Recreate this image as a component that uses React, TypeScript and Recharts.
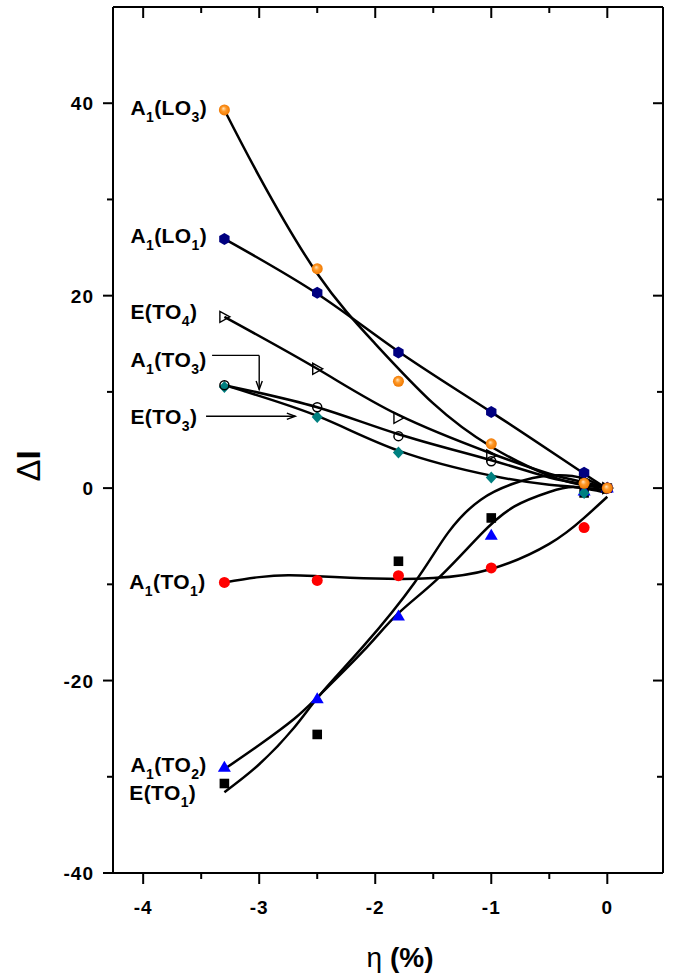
import React from 'react';
import { ComposedChart, Line, Scatter, XAxis, YAxis, ReferenceDot, ReferenceLine } from 'recharts';

// strain values of the measured points
const etaPoints = [-3.3, -2.5, -1.8, -1.0, -0.2, 0];
// measured ΔI
const lo3Points = [39.3, 22.8, 11.1, 4.6, 0.5, 0];
const lo1Points = [25.9, 20.3, 14.1, 7.9, 1.6, 0];
const eto4Points = [17.8, 12.4, 7.3, 3.4, 0.8, 0];
const ato3Points = [10.7, 8.4, 5.4, 2.8, 0.5, 0];
const eto3Points = [10.5, 7.4, 3.7, 1.1, -0.5, 0];
const ato1Points = [-9.8, -9.6, -9.1, -8.3, -4.1, 0];
const ato2Points = [-29.0, -21.9, -13.3, -4.9, -0.3, 0];
const eto1Points = [-30.7, -25.6, -7.6, -3.1, -0.5, 0];

// fitted curves
const lo3FitEta = [-3.3, -3.0, -2.5, -2.0, -1.5, -1.0, -0.5, -0.2, 0];
const lo3FitVal = [39.3, 32.4, 22.3, 15.0, 8.8, 4.3, 1.3, 0.3, 0];
const lo1FitEta = [-3.3, -2.5, -1.8, -1.0, -0.2, 0];
const lo1FitVal = [25.9, 20.2, 14.2, 7.9, 1.5, 0];
const eto4FitEta = [-3.3, -2.5, -1.8, -1.0, -0.5, -0.2, 0];
const eto4FitVal = [17.8, 12.4, 7.6, 3.6, 1.5, 0.6, 0];
const ato3FitEta = [-3.3, -2.5, -1.8, -1.0, -0.5, -0.2, 0];
const ato3FitVal = [10.7, 8.4, 5.6, 2.9, 1.1, 0.4, 0];
const eto3FitEta = [-3.3, -2.5, -1.8, -1.0, -0.5, -0.2, 0];
const eto3FitVal = [10.7, 7.5, 3.9, 1.3, 0.35, 0.05, -0.2];
const ato1FitEta = [-3.3, -3.0, -2.75, -2.5, -2.0, -1.5, -1.0, -0.5, -0.2, 0];
const ato1FitVal = [-9.8, -9.25, -9.05, -9.15, -9.4, -9.35, -8.4, -5.8, -3.1, -0.9];
const ato2FitEta = [-3.3, -3.0, -2.7, -2.47, -2.1, -1.8, -1.46, -1.09, -0.8, -0.5, -0.28, 0];
const ato2FitVal = [-29.2, -26.7, -24.0, -21.4, -16.9, -13.0, -9.4, -4.8, -1.9, -0.4, 0.1, -0.5];
const eto1FitEta = [-3.3, -3.0, -2.7, -2.47, -2.1, -1.66, -1.37, -1.09, -0.8, -0.5, -0.2, 0];
const eto1FitVal = [-31.6, -28.7, -24.9, -21.4, -16.4, -9.8, -4.6, -1.2, 0.5, 1.3, 1.0, -0.3];

const xTicks = [-4, -3.5, -3, -2.5, -2, -1.5, -1, -0.5, 0];
const yTicks = [-40, -30, -20, -10, 0, 10, 20, 30, 40];

const labelTexts = ['A_1(LO_3)', 'A_1(LO_1)', 'E(TO_4)', 'A_1(TO_3)', 'E(TO_3)', 'A_1(TO_1)', 'A_1(TO_2)', 'E(TO_1)'];
const labelEta = [-4.11, -4.11, -4.11, -4.11, -4.11, -4.12, -4.11, -4.12];
const labelVal = [38.76, 25.5, 17.6, 12.6, 6.71, -10.5, -29.47, -32.4];

const FONT = '"Liberation Sans", Arial, sans-serif';

const pts = (xs: number[], ys: number[]) => xs.map((x, i) => ({ x, y: ys[i] }));

const isMajor = (v: number) => Math.abs(v - Math.round(v)) < 1e-9;
const isMajorY = (v: number) => Math.abs(v % 20) < 1e-9;

const BottomTick = (p: any) => {
  const v = p.payload.value;
  const major = isMajor(v);
  return (
    <g>
      <line x1={p.x} x2={p.x} y1={p.y} y2={p.y + (major ? 11 : 6)} stroke="#000" strokeWidth={2} />
      {major && (
        <text x={p.x} y={p.y + 41} textAnchor="middle" fontFamily={FONT} fontWeight="bold" fontSize={19} letterSpacing={1} fill="#000">
          {String(v)}
        </text>
      )}
    </g>
  );
};
const TopTick = (p: any) => {
  const major = isMajor(p.payload.value);
  return <line x1={p.x} x2={p.x} y1={p.y} y2={p.y + (major ? 11 : 6)} stroke="#000" strokeWidth={2} />;
};
const LeftTick = (p: any) => {
  const v = p.payload.value;
  const major = isMajorY(v);
  return (
    <g>
      <line x1={p.x} x2={p.x - (major ? 10 : 6)} y1={p.y} y2={p.y} stroke="#000" strokeWidth={2} />
      {major && (
        <text x={p.x - 19} y={p.y + 7} textAnchor="end" fontFamily={FONT} fontWeight="bold" fontSize={19} letterSpacing={1} fill="#000">
          {String(v)}
        </text>
      )}
    </g>
  );
};
const RightTick = (p: any) => {
  const major = isMajorY(p.payload.value);
  return <line x1={p.x} x2={p.x - (major ? 10 : 6)} y1={p.y} y2={p.y} stroke="#000" strokeWidth={2} />;
};

const Ball = (p: any) => <circle cx={p.cx} cy={p.cy} r={5.5} fill="url(#orangeBall)" />;
const Hex = (p: any) => {
  const r = 6;
  const d = [0, 1, 2, 3, 4, 5]
    .map((k) => {
      const a = (Math.PI / 180) * (60 * k - 90);
      return `${p.cx + r * Math.cos(a)},${p.cy + r * Math.sin(a)}`;
    })
    .join(' ');
  return <polygon points={d} fill="#000080" />;
};
const RightTri = (p: any) => (
  <polygon
    points={`${p.cx + 5.5},${p.cy} ${p.cx - 4.5},${p.cy - 5.5} ${p.cx - 4.5},${p.cy + 5.5}`}
    fill="none"
    stroke="#000"
    strokeWidth={1.4}
  />
);
const OpenCircle = (p: any) => <circle cx={p.cx} cy={p.cy} r={4.5} fill="none" stroke="#000" strokeWidth={1.5} />;
const Diamond = (p: any) => (
  <polygon points={`${p.cx},${p.cy - 6} ${p.cx + 5.5},${p.cy} ${p.cx},${p.cy + 6} ${p.cx - 5.5},${p.cy}`} fill="#008080" />
);
const RedDot = (p: any) => <circle cx={p.cx} cy={p.cy} r={5.5} fill="#FF0000" />;
const BlueTri = (p: any) => (
  <polygon points={`${p.cx},${p.cy - 6.5} ${p.cx + 6.5},${p.cy + 4.5} ${p.cx - 6.5},${p.cy + 4.5}`} fill="#0000FF" />
);
const Square = (p: any) => <rect x={p.cx - 4.8} y={p.cy - 4.8} width={9.6} height={9.6} fill="#000" />;
const NoShape = () => <g />;

const SubLabel = ({ cx, cy, text }: any) => {
  const parts = text.split(/_(\d)/);
  return (
    <text x={cx} y={cy} fontFamily={FONT} fontWeight="bold" fontSize={21} fill="#000" letterSpacing={0.4}>
      {parts.map((t: string, i: number) =>
        i % 2 === 1 ? (
          <tspan key={i} dy={7} fontSize={14}>
            {t}
          </tspan>
        ) : (
          <tspan key={i} dy={i === 0 ? 0 : -7}>
            {t}
          </tspan>
        )
      )}
    </text>
  );
};

const arrowLine = (withHead: boolean) => (p: any) => {
  const { x1, y1, x2, y2 } = p;
  const ang = Math.atan2(y2 - y1, x2 - x1);
  const L = 9;
  const w = 0.35;
  const hx1 = x2 - L * Math.cos(ang - w);
  const hy1 = y2 - L * Math.sin(ang - w);
  const hx2 = x2 - L * Math.cos(ang + w);
  const hy2 = y2 - L * Math.sin(ang + w);
  return (
    <g>
      <line x1={x1} y1={y1} x2={x2} y2={y2} stroke="#000" strokeWidth={1.4} />
      {withHead && <polyline points={`${hx1},${hy1} ${x2},${y2} ${hx2},${hy2}`} fill="none" stroke="#000" strokeWidth={1.4} />}
    </g>
  );
};

const scatterSeries = [
  { name: 'E(TO1)', ys: eto1Points, shape: Square },
  { name: 'A1(TO2)', ys: ato2Points, shape: BlueTri },
  { name: 'A1(TO1)', ys: ato1Points, shape: RedDot },
  { name: 'E(TO3)', ys: eto3Points, shape: Diamond },
  { name: 'A1(TO3)', ys: ato3Points, shape: OpenCircle },
  { name: 'E(TO4)', ys: eto4Points, shape: RightTri },
  { name: 'A1(LO1)', ys: lo1Points, shape: Hex },
  { name: 'A1(LO3)', ys: lo3Points, shape: Ball },
];

const fitSeries = [
  { name: 'fitLO3', xs: lo3FitEta, ys: lo3FitVal },
  { name: 'fitLO1', xs: lo1FitEta, ys: lo1FitVal },
  { name: 'fitETO4', xs: eto4FitEta, ys: eto4FitVal },
  { name: 'fitATO3', xs: ato3FitEta, ys: ato3FitVal },
  { name: 'fitETO3', xs: eto3FitEta, ys: eto3FitVal },
  { name: 'fitATO1', xs: ato1FitEta, ys: ato1FitVal },
  { name: 'fitATO2', xs: ato2FitEta, ys: ato2FitVal },
  { name: 'fitETO1', xs: eto1FitEta, ys: eto1FitVal },
];

const xDomain: [number, number] = [-4.26, 0.48];
const yDomain: [number, number] = [-40, 50];

export default function App() {
  return (
    <div style={{ position: 'absolute', left: 0, top: 0, width: 674, height: 975, background: '#fff' }}>
      <ComposedChart width={674} height={975} margin={{ top: 7, right: 11, bottom: 0, left: 0 }}>
        <defs>
          <radialGradient id="orangeBall" cx="50%" cy="50%" r="50%" fx="40%" fy="35%">
            <stop offset="0%" stopColor="#FFE6C0" />
            <stop offset="45%" stopColor="#FF9A2A" />
            <stop offset="100%" stopColor="#F07800" />
          </radialGradient>
        </defs>
        <XAxis
          dataKey="x"
          type="number"
          domain={xDomain}
          ticks={xTicks}
          interval={0}
          allowDataOverflow
          height={102}
          tickSize={0}
          tickMargin={0}
          tickLine={false}
          tick={BottomTick}
          axisLine={{ stroke: '#000', strokeWidth: 2 }}
        />
        <XAxis
          xAxisId="top"
          orientation="top"
          dataKey="x"
          type="number"
          domain={xDomain}
          ticks={xTicks}
          interval={0}
          allowDataOverflow
          height={1}
          mirror
          tickSize={0}
          tickMargin={0}
          tickLine={false}
          tick={TopTick}
          axisLine={{ stroke: '#000', strokeWidth: 2 }}
        />
        <YAxis
          type="number"
          domain={yDomain}
          ticks={yTicks}
          interval={0}
          allowDataOverflow
          width={113}
          tickSize={0}
          tickMargin={0}
          tickLine={false}
          tick={LeftTick}
          axisLine={{ stroke: '#000', strokeWidth: 2 }}
        />
        <YAxis
          yAxisId="right"
          orientation="right"
          type="number"
          domain={yDomain}
          ticks={yTicks}
          interval={0}
          allowDataOverflow
          width={1}
          mirror
          tickSize={0}
          tickMargin={0}
          tickLine={false}
          tick={RightTick}
          axisLine={{ stroke: '#000', strokeWidth: 2 }}
        />
        <Scatter
          name="frame"
          xAxisId="top"
          yAxisId="right"
          data={pts([0], [0])}
          dataKey="y"
          shape={NoShape}
          isAnimationActive={false}
        />
        {scatterSeries.map((s) => (
          <Scatter key={s.name} name={s.name} data={pts(etaPoints, s.ys)} dataKey="y" shape={s.shape} isAnimationActive={false} />
        ))}
        {fitSeries.map((s) => (
          <Line
            key={s.name}
            name={s.name}
            data={pts(s.xs, s.ys)}
            dataKey="y"
            type="natural"
            stroke="#000"
            strokeWidth={2.5}
            dot={false}
            activeDot={false}
            isAnimationActive={false}
          />
        ))}
        {labelTexts.map((t, i) => (
          <ReferenceDot
            key={t}
            x={labelEta[i]}
            y={labelVal[i]}
            r={0}
            ifOverflow="visible"
            shape={(p: any) => <SubLabel cx={p.cx} cy={p.cy} text={t} />}
          />
        ))}
        <ReferenceLine segment={[{ x: -3.406, y: 13.79 }, { x: -3.0, y: 13.79 }]} ifOverflow="visible" shape={arrowLine(false)} />
        <ReferenceLine segment={[{ x: -3.0, y: 13.79 }, { x: -3.0, y: 10.25 }]} ifOverflow="visible" shape={arrowLine(true)} />
        <ReferenceLine segment={[{ x: -3.458, y: 7.47 }, { x: -2.689, y: 7.47 }]} ifOverflow="visible" shape={arrowLine(true)} />
      </ComposedChart>
      <svg width={674} height={975} style={{ position: 'absolute', left: 0, top: 0, pointerEvents: 'none' }}>
        <text x={400} y={967} textAnchor="middle" fontFamily={FONT} fontSize={28} fontWeight="bold" fill="#000">
          <tspan fontWeight="normal">η</tspan>
          <tspan> (%)</tspan>
        </text>
        <text
          x={28}
          y={466}
          transform="rotate(-90 28 466)"
          textAnchor="middle"
          dominantBaseline="central"
          fontFamily={FONT}
          fontSize={33}
          fontWeight="bold"
          fill="#000"
        >
          <tspan fontWeight="normal">Δ</tspan>
          <tspan>I</tspan>
        </text>
      </svg>
    </div>
  );
}
